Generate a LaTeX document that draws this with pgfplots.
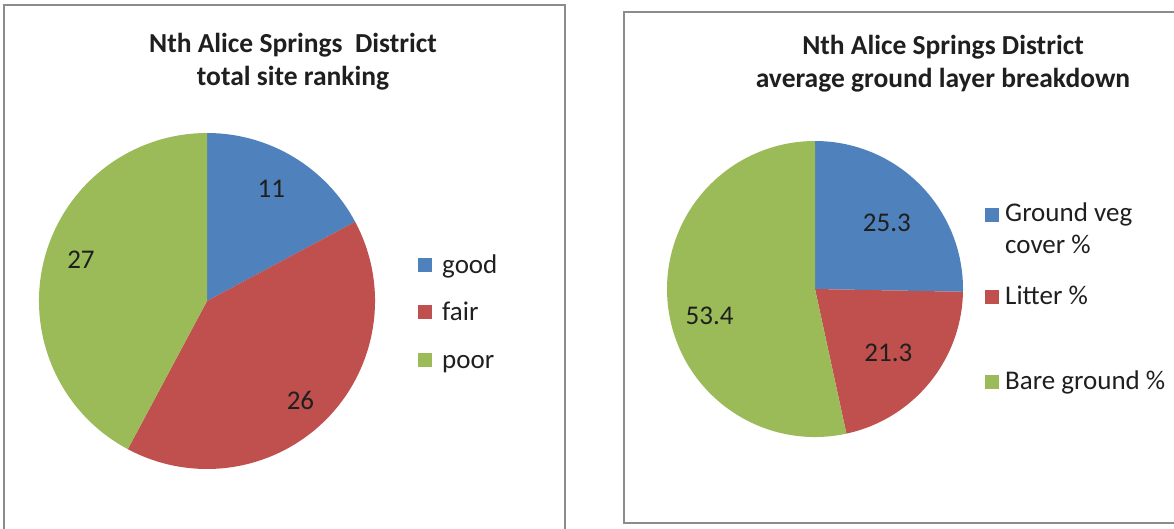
\documentclass[border=0pt]{standalone}
\usepackage{pgfplots}
\pgfplotsset{compat=1.18}
\usepackage{pgfplotstable}
\usepackage{fontspec}
\setmainfont{Carlito}
\definecolor{cblue}{HTML}{4F81BD}
\definecolor{cred}{HTML}{C0504D}
\definecolor{cgreen}{HTML}{9BBB59}
\definecolor{frame}{HTML}{8C8C8C}

\pgfplotstableread{
label value
good 11
fair 26
poor 27
}\lefttable
\pgfplotstableread{
label value
veg 25.3
litter 21.3
bare 53.4
}\righttable

\pgfplotstablegetelem{0}{value}\of\lefttable \let\La\pgfplotsretval
\pgfplotstablegetelem{1}{value}\of\lefttable \let\Lb\pgfplotsretval
\pgfplotstablegetelem{2}{value}\of\lefttable \let\Lc\pgfplotsretval
\pgfmathsetmacro\Ltot{\La+\Lb+\Lc}
\pgfmathsetmacro\LaE{90-360*(\La/\Ltot)}
\pgfmathsetmacro\LbE{\LaE-360*(\Lb/\Ltot)}
\pgfmathsetmacro\LcE{\LbE-360*(\Lc/\Ltot)}
\pgfmathsetmacro\LaM{(90+\LaE)/2}
\pgfmathsetmacro\LbM{(\LaE+\LbE)/2}
\pgfmathsetmacro\LcM{(\LbE+\LcE)/2}

\pgfplotstablegetelem{0}{value}\of\righttable \let\Ra\pgfplotsretval
\pgfplotstablegetelem{1}{value}\of\righttable \let\Rb\pgfplotsretval
\pgfplotstablegetelem{2}{value}\of\righttable \let\Rc\pgfplotsretval
\pgfmathsetmacro\Rtot{\Ra+\Rb+\Rc}
\pgfmathsetmacro\RaE{90-360*(\Ra/\Rtot)}
\pgfmathsetmacro\RbE{\RaE-360*(\Rb/\Rtot)}
\pgfmathsetmacro\RcE{\RbE-360*(\Rc/\Rtot)}
\pgfmathsetmacro\RaM{(90+\RaE)/2}
\pgfmathsetmacro\RbM{(\RaE+\RbE)/2}
\pgfmathsetmacro\RcM{(\RbE+\RcE)/2}

\begin{document}
\begin{tikzpicture}[x=1pt,y=1pt,
  every node/.style={font=\fontsize{27}{32}\selectfont, text=black!88},
  lg/.style={anchor=base west, inner sep=0pt}]
\useasboundingbox (0,0) rectangle (1174,-529);
\draw[frame, line width=1.5pt] (4,-5) rectangle (565,-545);
\draw[frame, line width=1.5pt] (624,-12) rectangle (1185,-523);

% Left titles
\node[font=\fontsize{27.5}{32}\selectfont\bfseries] at (293,-45) {Nth Alice Springs\ \ District};
\node[font=\fontsize{27.5}{32}\selectfont\bfseries] at (293,-78) {total site ranking};
% Right titles
\node[font=\fontsize{27.5}{32}\selectfont\bfseries] at (943,-47) {Nth Alice Springs District};
\node[font=\fontsize{27.5}{32}\selectfont\bfseries] at (943,-80) {average ground layer breakdown};

\begin{axis}[hide axis, x=168pt, y=168pt, xmin=-1, xmax=1, ymin=-1, ymax=1,
  anchor=center, at={(207pt,-301pt)}, clip=false]
\fill[cblue] (axis cs:0,0) -- ++(90:168pt) arc[start angle=90, end angle=\LaE, radius=168pt] -- cycle;
\fill[cred] (axis cs:0,0) -- ++(\LaE:168pt) arc[start angle=\LaE, end angle=\LbE, radius=168pt] -- cycle;
\fill[cgreen] (axis cs:0,0) -- ++(\LbE:168pt) arc[start angle=\LbE, end angle=\LcE, radius=168pt] -- cycle;
\node at (axis cs:0,0) [shift={(\LaM:131pt)}, xshift=-3pt] {\La};
\node at (axis cs:0,0) [shift={(\LbM:135pt)}, xshift=-2pt, yshift=-4pt] {\Lb};
\node at (axis cs:0,0) [shift={(\LcM:132pt)}, xshift=2pt, yshift=9pt] {\Lc};
\end{axis}

\begin{axis}[hide axis, x=148pt, y=148pt, xmin=-1, xmax=1, ymin=-1, ymax=1,
  anchor=center, at={(815pt,-289pt)}, clip=false]
\fill[cblue] (axis cs:0,0) -- ++(90:148pt) arc[start angle=90, end angle=\RaE, radius=148pt] -- cycle;
\fill[cred] (axis cs:0,0) -- ++(\RaE:148pt) arc[start angle=\RaE, end angle=\RbE, radius=148pt] -- cycle;
\fill[cgreen] (axis cs:0,0) -- ++(\RbE:148pt) arc[start angle=\RbE, end angle=\RcE, radius=148pt] -- cycle;
\node at (axis cs:0,0) [shift={(\RaM:95pt)}, xshift=4pt] {\Ra};
\node at (axis cs:0,0) [shift={(\RbM:95pt)}, yshift=-4pt] {\Rb};
\node at (axis cs:0,0) [shift={(\RcM:111pt)}, xshift=5pt, yshift=-15pt] {\Rc};
\end{axis}

% Left legend
\fill[cblue] (418,-258) rectangle (432,-272);
\node[lg] at (442,-273) {good};
\fill[cred] (418,-305) rectangle (432,-319);
\node[lg] at (442,-320) {fair};
\fill[cgreen] (418,-353) rectangle (432,-367);
\node[lg] at (442,-368) {poor};

% Right legend
\fill[cblue] (985,-208) rectangle (999,-222);
\node[lg] at (1005,-222) {Ground veg};
\node[lg] at (1005,-253) {cover \%};
\fill[cred] (985,-290) rectangle (999,-304);
\node[lg] at (1005,-304) {Litter \%};
\fill[cgreen] (985,-375) rectangle (999,-389);
\node[lg] at (1005,-389) {Bare ground \%};
\end{tikzpicture}
\end{document}
